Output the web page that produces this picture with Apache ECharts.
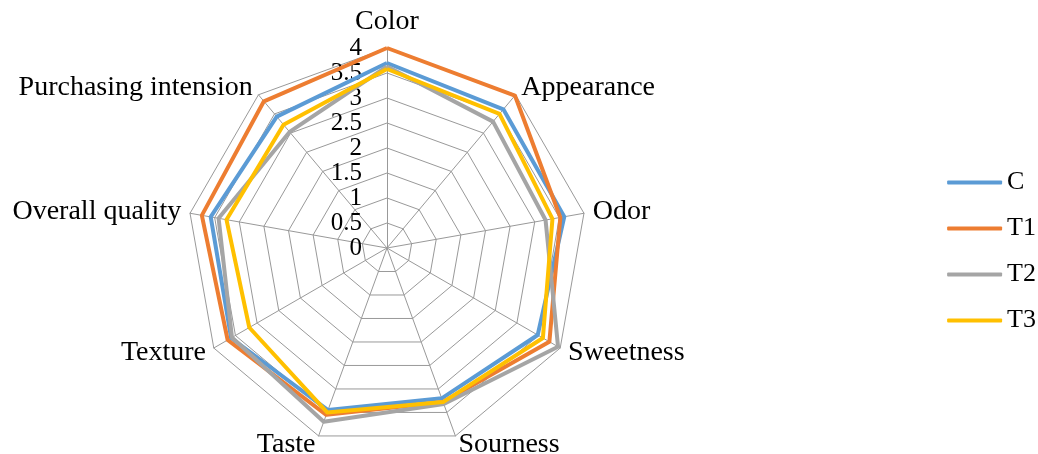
<!DOCTYPE html>
<html>
<head>
<meta charset="utf-8">
<script src="https://cdn.jsdelivr.net/npm/echarts@6/dist/echarts.min.js"></script>
<style>
html,body{margin:0;padding:0;background:#fff;}
#chart{width:1038px;height:454px;}
</style>
</head>
<body>
<div id="chart"></div>
<script>
const categories = ['Color', 'Appearance', 'Odor', 'Sweetness', 'Sourness', 'Taste', 'Texture', 'Overall quality', 'Purchasing intension'];
const seriesNames = ['C', 'T1', 'T2', 'T3'];
const valuesC  = [3.70, 3.62, 3.60, 3.48, 3.20, 3.45, 3.60, 3.58, 3.43];
const valuesT1 = [4.00, 3.98, 3.52, 3.75, 3.28, 3.55, 3.68, 3.76, 3.83];
const valuesT2 = [3.63, 3.30, 3.22, 3.95, 3.32, 3.70, 3.58, 3.42, 3.03];
const valuesT3 = [3.58, 3.50, 3.36, 3.60, 3.28, 3.50, 3.18, 3.26, 3.22];
const axisMax = 4;
const colors = ['#5B9BD5', '#ED7D31', '#A5A5A5', '#FFC000'];

// ECharts lays out radar indicators counter-clockwise; reorder so they go clockwise like the reference
const order = [0].concat(categories.slice(1).map((_, i) => categories.length - 1 - i));
const reorder = arr => order.map(i => arr[i]);

const font = "'Liberation Serif', 'Times New Roman', serif";

const indicators = reorder(categories).map((name, i) => {
  const ind = { name: name, max: axisMax, min: 0 };
  if (i === 0) ind.axisLabel = { show: true };
  return ind;
});

const allValues = [valuesC, valuesT1, valuesT2, valuesT3];

const chart = echarts.init(document.getElementById('chart'), null, { renderer: 'canvas' });
chart.setOption({
  animation: false,
  backgroundColor: '#fff',
  color: colors,
  legend: {
    orient: 'vertical',
    right: -3,
    top: 164,
    itemWidth: 55,
    itemHeight: 4,
    itemGap: 19,
    icon: 'roundRect',
    textStyle: { fontFamily: font, fontSize: 26, color: '#000', lineHeight: 27 },
    data: seriesNames
  },
  radar: {
    center: [387, 248],
    radius: 200,
    startAngle: 90,
    shape: 'polygon',
    splitNumber: 8,
    indicator: indicators,
    nameGap: 9,
    axisName: { color: '#000', fontFamily: font, fontSize: 28 },
    axisLine: { lineStyle: { color: '#999999', width: 1 } },
    splitLine: { lineStyle: { color: '#999999', width: 1 } },
    splitArea: { show: false },
    axisTick: { show: false },
    axisLabel: { show: false, color: '#000', fontFamily: font, fontSize: 25, margin: 25 }
  },
  series: [{
    type: 'radar',
    symbol: 'none',
    data: allValues.map((vals, i) => ({
      name: seriesNames[i],
      value: reorder(vals),
      lineStyle: { width: 4, color: colors[i] },
      itemStyle: { color: colors[i] }
    }))
  }]
});
</script>
</body>
</html>
